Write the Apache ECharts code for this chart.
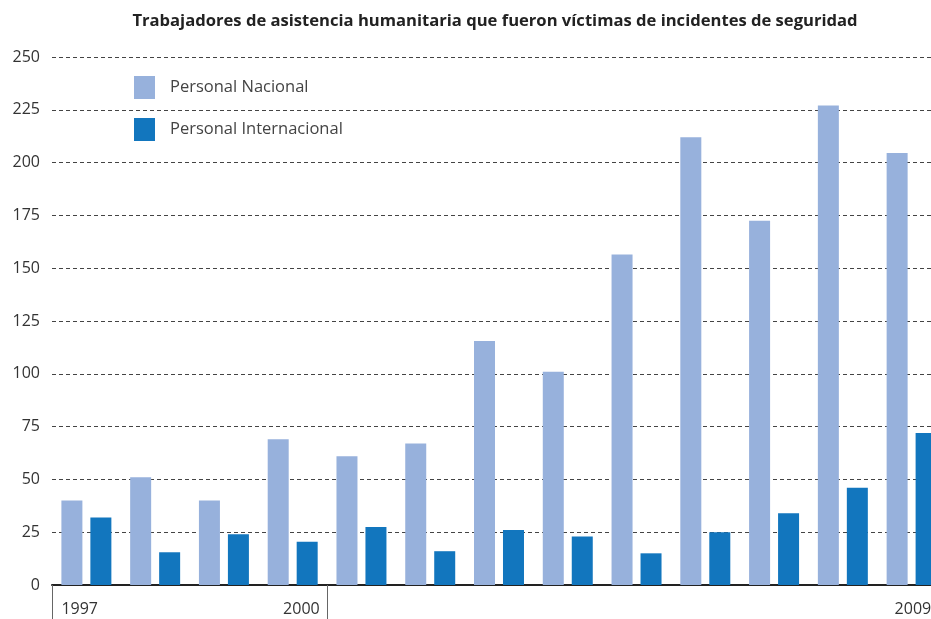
<!DOCTYPE html>
<html>
<head>
<meta charset="utf-8">
<script src="https://cdn.jsdelivr.net/npm/echarts@6/dist/echarts.min.js"></script>
<style>
html,body{margin:0;padding:0;background:#fff;}
#chart{width:931px;height:619px;}
</style>
</head>
<body>
<div id="chart"></div>
<script>
const years = ['1997','1998','1999','2000','2001','2002','2003','2004','2005','2006','2007','2008','2009'];
const shownYears = ['1997','2000','2009'];
const nacional = [40, 51, 40, 69, 61, 67, 115.5, 101, 156.5, 212, 172.5, 227, 204.5];
const internacional = [32, 15.5, 24, 20.5, 27.5, 16, 26, 23, 15, 25, 34, 46, 72];
const yTicks = [0, 25, 50, 75, 100, 125, 150, 175, 200, 225, 250];

const chart = echarts.init(document.getElementById('chart'));
const font = '"Open Sans", "Noto Sans", sans-serif';

chart.setOption({
  animation: false,
  backgroundColor: '#fff',
  title: {
    text: 'Trabajadores de asistencia humanitaria que fueron víctimas de incidentes de seguridad',
    left: 490, top: 8, textAlign: 'center',
    textStyle: { fontFamily: font, fontSize: 16.6, fontWeight: 'bold', color: '#222' }
  },
  legend: {
    orient: 'vertical', left: 129, top: 71,
    itemWidth: 21, itemHeight: 23, itemGap: 19,
    icon: 'rect',
    textStyle: { fontFamily: font, fontSize: 16.5, color: '#444', padding: [0,0,0,10] },
    data: ['Personal Nacional', 'Personal Internacional']
  },
  grid: { left: 52, width: 894, top: 57, bottom: 34, containLabel: false, outerBoundsMode: 'none' },
  xAxis: {
    type: 'category',
    data: years,
    boundaryGap: true,
    axisLine: { lineStyle: { color: '#222', width: 2 } },
    axisTick: {
      show: true, length: 40, alignWithLabel: false,
      interval: (i) => i === 0 || i === 4,
      lineStyle: { color: '#666', width: 1 }
    },
    axisLabel: {
      interval: 0, margin: 16, hideOverlap: false,
      fontFamily: font, fontSize: 16, color: '#333',
      formatter: (v) => {
        if (v === shownYears[0]) return '{l|' + v + '}';
        if (v === shownYears[1]) return '{r|' + v + '}';
        if (v === shownYears[2]) return '{e|' + v + '}';
        return '';
      },
      rich: {
        l: { width: 50, align: 'left', fontFamily: font, fontSize: 16, color: '#333' },
        r: { width: 54, align: 'right', fontFamily: font, fontSize: 16, color: '#333' },
        e: { width: 34, align: 'left', fontFamily: font, fontSize: 16, color: '#333' }
      }
    }
  },
  yAxis: {
    type: 'value',
    min: 0, max: 250, interval: 25,
    axisLine: { show: false },
    axisTick: { show: false },
    axisLabel: {
      margin: 12, fontFamily: font, fontSize: 16, color: '#333',
      formatter: (v) => yTicks.includes(v) ? String(v) : ''
    },
    splitLine: { lineStyle: { color: '#444', type: [4, 3], width: 1 } }
  },
  series: [
    {
      name: 'Personal Nacional', type: 'bar', data: nacional,
      barWidth: 21, barGap: '38%',
      itemStyle: { color: '#97B1DC' }
    },
    {
      name: 'Personal Internacional', type: 'bar', data: internacional,
      barWidth: 21,
      itemStyle: { color: '#1276BE' }
    }
  ]
});
</script>
</body>
</html>
